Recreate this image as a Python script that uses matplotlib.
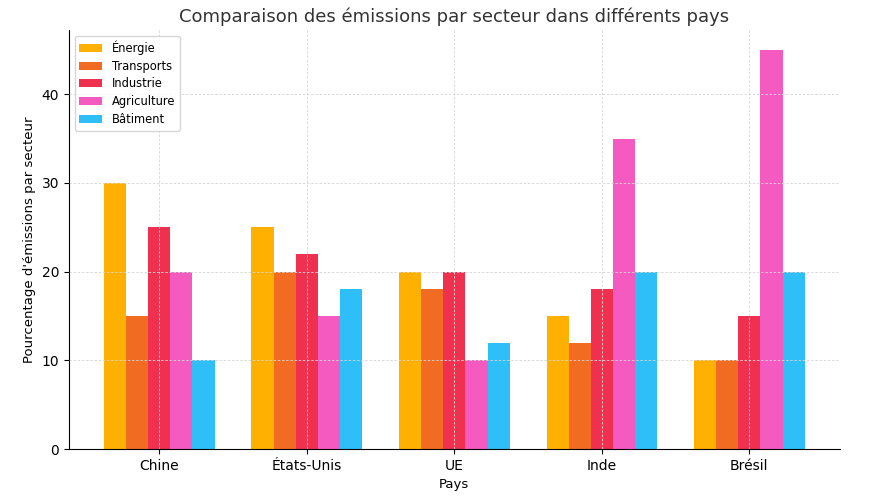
import numpy as np
import matplotlib.pyplot as plt

pays = ['Chine', 'États-Unis', 'UE', 'Inde', 'Brésil']
secteurs = ['Énergie', 'Transports', 'Industrie', 'Agriculture', 'Bâtiment']
energie = [30, 25, 20, 15, 10]
transports = [15, 20, 18, 12, 10]
industrie = [25, 22, 20, 18, 15]
agriculture = [20, 15, 10, 35, 45]
batiment = [10, 18, 12, 20, 20]
couleurs = ['#FFB000', '#F26B22', '#F0304F', '#F55AC0', '#2EBEF8']

valeurs = [energie, transports, industrie, agriculture, batiment]

fig, ax = plt.subplots(figsize=(8.72, 4.98), dpi=100)
x = np.arange(len(pays))
largeur = 0.15
for i, (nom, vals) in enumerate(zip(secteurs, valeurs)):
    ax.bar(x + (i - 2) * largeur, vals, largeur, label=nom, color=couleurs[i])

ax.set_xticks(x)
ax.set_xticklabels(pays)
ax.set_xlabel('Pays', fontsize=9.5)
ax.set_ylabel("Pourcentage d'émissions par secteur", fontsize=9.5)
ax.set_title('Comparaison des émissions par secteur dans différents pays',
             fontsize=13, color='#333333')
ax.grid(True, linestyle=(0, (3, 2)), color='#d5d5d5', linewidth=0.6)
ax.set_axisbelow(False)
ax.spines['top'].set_visible(False)
ax.spines['right'].set_visible(False)
ax.legend(loc='upper left', fontsize=8.3, labelspacing=0.42)

plt.subplots_adjust(left=0.079, right=0.963, top=0.94, bottom=0.098)
plt.savefig('out.png')
